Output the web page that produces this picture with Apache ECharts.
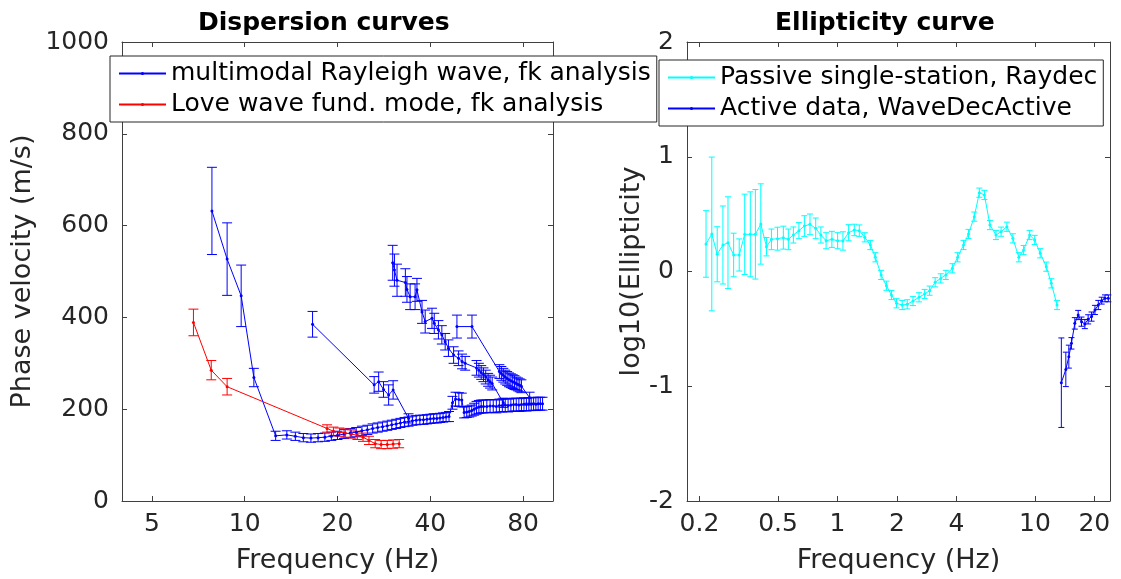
<!DOCTYPE html>
<html><head><meta charset="utf-8">
<script src="https://cdn.jsdelivr.net/npm/echarts@6/dist/echarts.min.js"></script>
<style>html,body{margin:0;padding:0;background:#fff;}#chart{width:1121px;height:579px;}</style>
</head><body><div id="chart"></div>
<script>
// ---- Data: [frequency (Hz), value, error half-width] ----
const rayleighFundamental = [[7.83,632,95],[8.77,527,79],[9.74,447,67],[10.71,269,20],[12.6,142,10],[13.7,144,9],[14.6,141,9],[15.5,138,9],[16.4,137,9],[17.3,138,9],[18.2,139,9],[19.1,141,9],[20.0,143,9],[21.0,146,10],[22.0,148,10],[23.0,150,10],[24.0,153,10],[25.0,155,10],[26.0,158,10],[27.0,160,10],[28.0,162,10],[29.0,164,10],[30.0,166,10],[31.0,168,10],[32.0,170,10],[33.0,172,10],[34.0,173,10],[35.0,175,10],[36.0,176,10],[37.0,177,10],[38.0,177,10],[39.0,178,10],[40.0,179,10],[41.0,180,10],[42.0,180,10],[43.0,181,10],[44.0,182,10],[45.0,183,10],[46.0,184,11],[47.2,214,14],[48.3,222,15],[49.5,221,15],[50.6,220,15],[51.5,193,12],[52.5,194,12],[53.5,195,12],[54.5,197,12],[55.5,200,13],[56.5,203,14],[57.5,205,14],[58.5,206,14],[59.5,206,14],[61,206,14],[62.5,207,14],[64,207,14],[65.5,206,14],[67,208,14],[68.5,208,14],[70,209,14],[71.5,208,14],[73,209,14],[74.5,210,14],[76,210,14],[77.5,209,14],[79,210,14],[80.5,211,14],[82,210,14],[83.5,211,14],[85,211,14],[86.5,212,14],[88,211,14],[89.5,212,14],[91,212,14],[92.5,212,14]];
const rayleighMode2 = [[16.6,385,28],[26.3,253,18],[27.2,260,21],[28.2,243,17],[29.3,231,22],[30.3,242,20],[34.0,180,10]];
const rayleighMode3 = [[30.2,519,38],[30.6,503,35],[31.2,481,35],[33.2,476,30],[33.6,461,28],[34.4,445,28],[35.7,445,28],[36.2,460,25],[37.6,412,25],[38.5,391,25],[40.5,398,22],[41.2,387,22],[42.5,373,20],[43.6,362,20],[44.7,347,18],[45.8,333,18],[47.6,318,18],[49.4,311,16],[50.7,304,16],[51.9,300,15],[56.5,290,16],[57.5,285,15],[58.5,280,15],[59.5,275,15],[60.5,270,15],[61.6,264,14],[62.5,260,14],[63.5,256,14],[69.0,214,10]];
const rayleighMode4 = [[48.8,380,25],[54.6,380,25],[67,282,15],[68,278,15],[69,274,15],[70,270,15],[71,267,15],[72,264,15],[73,262,15],[74,260,15],[75,258,15],[76,256,14],[77,254,14],[78,252,14],[79,250,14],[84,225,12]];
const loveFundamental = [[6.82,389,29],[7.79,285,21],[8.77,249,18],[18.5,158,8],[19.4,152,9],[20.3,150,9],[21.2,148,9],[22.2,146,9],[23.2,143,9],[24.2,139,9],[25.3,132,9],[26.5,125,9],[27.7,123,9],[29.0,123,9],[30.3,124,9],[31.7,125,9]];
const passiveRaydec = [[0.216,0.24,0.29],[0.231,0.327,0.67],[0.246,0.15,0.24],[0.263,0.231,0.34],[0.279,0.251,0.40],[0.298,0.144,0.19],[0.318,0.144,0.14],[0.339,0.324,0.35],[0.362,0.324,0.37],[0.384,0.324,0.39],[0.409,0.414,0.35],[0.437,0.216,0.08],[0.463,0.28,0.09],[0.497,0.286,0.1],[0.532,0.295,0.1],[0.564,0.28,0.09],[0.598,0.318,0.07],[0.638,0.356,0.07],[0.68,0.396,0.09],[0.726,0.411,0.09],[0.776,0.376,0.09],[0.824,0.318,0.07],[0.876,0.268,0.07],[0.937,0.28,0.07],[1.002,0.268,0.07],[1.066,0.266,0.08],[1.139,0.338,0.07],[1.217,0.362,0.05],[1.29,0.356,0.05],[1.375,0.298,0.04],[1.468,0.231,0.04],[1.556,0.124,0.04],[1.664,-0.03,0.04],[1.77,-0.124,0.04],[1.877,-0.205,0.04],[1.991,-0.277,0.04],[2.128,-0.292,0.04],[2.256,-0.286,0.04],[2.413,-0.257,0.04],[2.589,-0.225,0.04],[2.763,-0.196,0.04],[2.93,-0.167,0.04],[3.124,-0.094,0.04],[3.334,-0.06,0.04],[3.54,-0.03,0.04],[3.82,0.028,0.04],[4.06,0.124,0.04],[4.35,0.231,0.04],[4.61,0.327,0.04],[4.93,0.478,0.04],[5.23,0.687,0.04],[5.55,0.667,0.04],[5.92,0.405,0.04],[6.35,0.318,0.04],[6.74,0.347,0.04],[7.21,0.39,0.04],[7.73,0.289,0.04],[8.29,0.124,0.04],[8.76,0.187,0.04],[9.40,0.318,0.04],[9.97,0.275,0.04],[10.64,0.159,0.04],[11.42,0.042,0.04],[12.11,-0.103,0.04],[12.94,-0.292,0.04]];
const activeWaveDec = [[13.61,-0.969,0.39],[14.34,-0.853,0.15],[14.85,-0.742,0.1],[15.31,-0.626,0.05],[15.92,-0.452,0.05],[16.56,-0.379,0.04],[17.22,-0.437,0.04],[17.9,-0.458,0.04],[18.6,-0.417,0.04],[19.36,-0.393,0.04],[20.14,-0.335,0.04],[20.94,-0.292,0.04],[21.78,-0.254,0.03],[22.64,-0.234,0.03],[23.54,-0.234,0.03]];

const leftXTicks = [5, 10, 20, 40, 80];
const rightXTicks = [0.2, 0.5, 1, 2, 4, 10, 20];

const NAME_R = 'multimodal Rayleigh wave, fk analysis';
const NAME_L = 'Love wave fund. mode, fk analysis';
const NAME_P = 'Passive single-station, Raydec';
const NAME_A = 'Active data, WaveDecActive';

const FONT = 'DejaVu Sans';
const AXIS_COLOR = '#404040';
const TEXT_COLOR = '#262626';

function lineSeries(name, data, color, idx) {
  return {
    type: 'line', name, xAxisIndex: idx * 2, yAxisIndex: idx * 2,
    data: data.map(d => [d[0], d[1]]),
    symbol: 'circle', symbolSize: 3, showSymbol: true,
    lineStyle: { color, width: 1 }, itemStyle: { color },
    silent: true, z: 3, clip: false
  };
}
function errorSeries(name, data, color, idx, cap) {
  return {
    type: 'custom', name: name + ' error', xAxisIndex: idx * 2, yAxisIndex: idx * 2,
    data: data.map(d => [d[0], d[1] - d[2], d[1] + d[2]]),
    encode: { x: 0, y: [1, 2] }, silent: true, z: 3,
    renderItem(params, api) {
      const x = api.value(0);
      const lo = api.coord([x, api.value(1)]);
      const hi = api.coord([x, api.value(2)]);
      const style = { stroke: color, lineWidth: 1, fill: null };
      return { type: 'group', children: [
        { type: 'line', shape: { x1: lo[0], y1: lo[1], x2: hi[0], y2: hi[1] }, style },
        { type: 'line', shape: { x1: lo[0] - cap, y1: lo[1], x2: lo[0] + cap, y2: lo[1] }, style },
        { type: 'line', shape: { x1: hi[0] - cap, y1: hi[1], x2: hi[0] + cap, y2: hi[1] }, style }
      ]};
    }
  };
}

function xAxes(grid, min, max, ticks) {
  const base = {
    gridIndex: grid, type: 'log', logBase: 10, min, max,
    axisLine: { show: true, onZero: false, lineStyle: { color: AXIS_COLOR, width: 1 } },
    axisTick: { show: true, inside: true, length: 5, customValues: ticks, lineStyle: { color: AXIS_COLOR } },
    minorTick: { show: false }, splitLine: { show: false }, minorSplitLine: { show: false }
  };
  return [
    Object.assign({}, base, {
      position: 'bottom',
      axisLabel: { show: true, customValues: ticks, margin: 11, color: TEXT_COLOR, fontSize: 25, fontFamily: FONT, formatter: v => String(v) },
      name: 'Frequency (Hz)', nameLocation: 'middle', nameGap: 46,
      nameTextStyle: { color: TEXT_COLOR, fontSize: 27, fontFamily: FONT }
    }),
    Object.assign({}, base, { position: 'top', axisLabel: { show: false } })
  ];
}
function yAxes(grid, min, max, interval, name, gap) {
  const base = {
    gridIndex: grid, type: 'value', min, max, interval,
    axisLine: { show: true, onZero: false, lineStyle: { color: AXIS_COLOR, width: 1 } },
    axisTick: { show: true, inside: true, length: 5, lineStyle: { color: AXIS_COLOR } },
    splitLine: { show: false }
  };
  return [
    Object.assign({}, base, {
      position: 'left',
      axisLabel: { show: true, margin: 13, color: TEXT_COLOR, fontSize: 25, fontFamily: FONT, formatter: v => String(v) },
      name, nameLocation: 'middle', nameGap: gap, nameRotate: 90,
      nameTextStyle: { color: TEXT_COLOR, fontSize: 27, fontFamily: FONT }
    }),
    Object.assign({}, base, { position: 'right', axisLabel: { show: false } })
  ];
}

const legendBase = {
  orient: 'vertical', padding: [5, 6, 5, 8], itemGap: 6, itemWidth: 47, itemHeight: 4,
  backgroundColor: '#ffffff', borderColor: '#262626', borderWidth: 1, borderRadius: 0,
  selectedMode: false, z: 10,
  textStyle: { color: '#000', fontSize: 25, fontFamily: FONT, padding: [0, 0, 0, 0] }
};

const chart = echarts.init(document.getElementById('chart'), null, { renderer: 'canvas' });
chart.setOption({
  animation: false,
  backgroundColor: '#ffffff',
  title: [
    { text: 'Dispersion curves', left: 198, top: 11, padding: 0, textStyle: { fontSize: 25, fontWeight: 'bold', fontFamily: FONT, color: '#000' } },
    { text: 'Ellipticity curve', left: 775, top: 11, padding: 0, textStyle: { fontSize: 25, fontWeight: 'bold', fontFamily: FONT, color: '#000' } }
  ],
  grid: [
    { left: 122, right: 568, top: 42, bottom: 78 },
    { left: 687, right: 11, top: 42, bottom: 78 }
  ],
  xAxis: [].concat(xAxes(0, 4, 100, leftXTicks), xAxes(1, 0.173, 24, rightXTicks)),
  yAxis: [].concat(yAxes(0, 0, 1000, 200, 'Phase velocity (m/s)', 86), yAxes(1, -2, 2, 1, 'log10(Ellipticity', 42)),
  legend: [
    Object.assign({}, legendBase, { data: [NAME_R, NAME_L], left: 110, top: 56 }),
    Object.assign({}, legendBase, { data: [NAME_P, NAME_A], left: 659, top: 60 })
  ],
  series: [
    lineSeries(NAME_R, rayleighFundamental, '#0000ff', 0),
    errorSeries(NAME_R + ' 1', rayleighFundamental, '#0000ff', 0, 5),
    lineSeries(NAME_R, rayleighMode2, '#0000ff', 0),
    errorSeries(NAME_R + ' 2', rayleighMode2, '#0000ff', 0, 5),
    lineSeries(NAME_R, rayleighMode3, '#0000ff', 0),
    errorSeries(NAME_R + ' 3', rayleighMode3, '#0000ff', 0, 5),
    lineSeries(NAME_R, rayleighMode4, '#0000ff', 0),
    errorSeries(NAME_R + ' 4', rayleighMode4, '#0000ff', 0, 5),
    lineSeries(NAME_L, loveFundamental, '#ff0000', 0),
    errorSeries(NAME_L, loveFundamental, '#ff0000', 0, 5),
    lineSeries(NAME_P, passiveRaydec, '#00ffff', 1),
    errorSeries(NAME_P, passiveRaydec, '#00ffff', 1, 3),
    lineSeries(NAME_A, activeWaveDec, '#0000ff', 1),
    errorSeries(NAME_A, activeWaveDec, '#0000ff', 1, 3)
  ]
});
</script></body></html>
